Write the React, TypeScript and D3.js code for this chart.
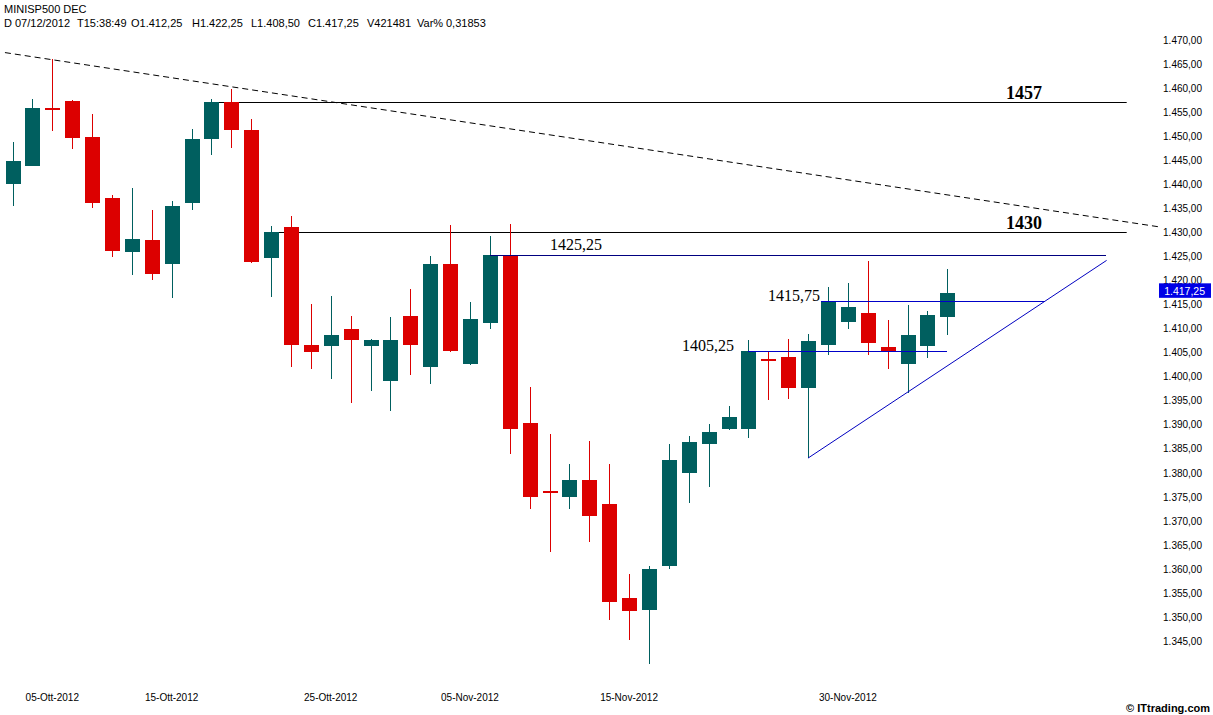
import React from "react";
import * as d3 from "d3";

// ---- DATA ----
const dates = [
  "2012-10-03","2012-10-04","2012-10-05","2012-10-08","2012-10-09","2012-10-10","2012-10-11","2012-10-12",
  "2012-10-15","2012-10-16","2012-10-17","2012-10-18","2012-10-19","2012-10-22","2012-10-23","2012-10-24",
  "2012-10-25","2012-10-26","2012-10-29","2012-10-30","2012-10-31","2012-11-01","2012-11-02","2012-11-05",
  "2012-11-06","2012-11-07","2012-11-08","2012-11-09","2012-11-12","2012-11-13","2012-11-14","2012-11-15",
  "2012-11-16","2012-11-19","2012-11-20","2012-11-21","2012-11-22","2012-11-23","2012-11-26","2012-11-27",
  "2012-11-28","2012-11-29","2012-11-30","2012-12-03","2012-12-04","2012-12-05","2012-12-06","2012-12-07",
];
const open = [
  1440, 1443.75, 1455.75, 1457.25, 1449.75, 1437, 1425.75, 1428.25,
  1423.25, 1436, 1449.25, 1457, 1451.25, 1424.5, 1431, 1406.5,
  1406.25, 1409.75, 1406.25, 1399, 1412.5, 1402, 1423.25, 1402.5,
  1411, 1425.25, 1390.25, 1376, 1375, 1378.5, 1373.5, 1354,
  1351.5, 1360.5, 1380, 1386, 1389, 1389, 1403.5, 1404,
  1397.5, 1406.5, 1411.25, 1413.25, 1406, 1402.5, 1406.25, 1412.25,
];
const high = [
  1448.75, 1457.75, 1466, 1457.5, 1454.5, 1437.75, 1439.25, 1434.5,
  1436.5, 1451.5, 1457.75, 1459.75, 1453.5, 1431.25, 1433.25, 1415,
  1416.75, 1412.5, 1407.75, 1412.25, 1418.25, 1425, 1431.5, 1415.5,
  1429.25, 1431.75, 1397.75, 1388, 1381.75, 1386.5, 1381.75, 1359,
  1360.5, 1386, 1387.5, 1390, 1393.75, 1407.5, 1405.25, 1407.75,
  1408.75, 1418.5, 1419.5, 1424, 1411.75, 1414.75, 1413.5, 1422.25,
];
const low = [
  1435.5, 1443.75, 1451, 1447.25, 1435, 1424.75, 1421, 1420,
  1416.25, 1434.5, 1446, 1447.5, 1423.5, 1416.5, 1402, 1401.5,
  1399.5, 1394.5, 1397, 1392.75, 1400.25, 1398.5, 1405, 1402.25,
  1409.75, 1383.75, 1372.5, 1363.5, 1372.5, 1365.5, 1349.25, 1345.25,
  1340.25, 1360, 1373.75, 1377, 1388.75, 1387.25, 1395, 1395.25,
  1383, 1404.5, 1409.75, 1404.5, 1401.5, 1396.5, 1403.75, 1408.5,
];
const close = [
  1444.75, 1455.75, 1455.5, 1449.5, 1436, 1426, 1428.5, 1421.25,
  1435.5, 1449.25, 1457, 1451.25, 1423.75, 1430, 1406.5, 1405,
  1408.5, 1407.5, 1407.5, 1407.5, 1406.5, 1423.25, 1405.25, 1412,
  1425.25, 1389, 1375, 1375.75, 1378.5, 1371, 1353, 1351.25,
  1360, 1382.5, 1386.25, 1388.5, 1391.5, 1405.25, 1403.25, 1397.5,
  1407.25, 1415.75, 1414.5, 1407, 1405.25, 1408.5, 1412.75, 1417.25,
];
const lastVolume = "421481";
const lastVar = "0,31853";
const lastTime = "15:38:49";

// axis ticks
const yTicks = d3.range(1345, 1470.001, 5);
const xTickDates = ["2012-10-05","2012-10-15","2012-10-25","2012-11-05","2012-11-15","2012-11-30"];
const xTickLabels = ["05-Ott-2012","15-Ott-2012","25-Ott-2012","05-Nov-2012","15-Nov-2012","30-Nov-2012"];

// horizontal levels: value, from index, to index
const boldLevels = [1457, 1430];
const boldLevelFrom = [10, 13];
const boldLevelTo = [56.02, 56.02];
const blueLevels = [1425.25, 1415.75, 1405.25];
const blueLevelFrom = [24, 40.65, 37];
const blueLevelTo = [55, 51.9, 47];
// trend lines [x index, value]
const dashedTrend = [[-0.38, 1467.3], [57.6, 1431.1]];
const risingTrend = [[40, 1383], [55.01, 1424.1]];

const TEAL = "#005f5f";
const RED = "#dc0000";

const locale = d3.formatLocale({ decimal: ",", thousands: ".", grouping: [3], currency: ["", ""] });
const fmtTick = locale.format(",.2f");
const fmtLevel = locale.format(".2f");

export default function App() {
  const W = 1213, H = 715;
  const x = d3.scaleLinear().domain([0, 47]).range([12.5, 947.3]);
  const y = d3.scaleLinear().domain([1345, 1470]).range([640.85, 39.6]);
  const n = dates.length;
  const last = n - 1;
  const sans = "'Liberation Sans', Arial, sans-serif";
  const serif = "'Liberation Serif', 'Times New Roman', serif";

  const line = d3.line<number[]>().x((d) => x(d[0])).y((d) => y(d[1]));

  const headerFields: [number, string][] = [
    [4, "D"],
    [15, "07/12/2012"],
    [77, "T" + lastTime],
    [131, "O" + fmtTick(open[last])],
    [192, "H" + fmtTick(high[last])],
    [251, "L" + fmtTick(low[last])],
    [308, "C" + fmtTick(close[last])],
    [367, "V" + lastVolume],
    [417, "Var%"],
    [446, lastVar],
  ];

  return (
    <svg width={W} height={H} style={{ position: "absolute", left: 0, top: 0, background: "#fff" }}>
      <rect x={0} y={0} width={W} height={H} fill="#fff" />
      {/* header */}
      <text x={4} y={13} fontFamily={sans} fontSize={11} fill="#000">MINISP500 DEC</text>
      {headerFields.map(([hx, t], i) => (
        <text key={i} x={hx} y={27} fontFamily={sans} fontSize={11} fill="#000">{t}</text>
      ))}

      {/* dashed trendline */}
      <path d={line(dashedTrend) || ""} stroke="#000" strokeWidth={1} strokeDasharray="6,4" fill="none" />

      {/* bold levels */}
      {boldLevels.map((v, i) => (
        <g key={"bl" + i}>
          <line x1={x(boldLevelFrom[i])} x2={x(boldLevelTo[i])} y1={Math.round(y(v)) + 0.5} y2={Math.round(y(v)) + 0.5} stroke="#000" strokeWidth={1} />
          <text x={1006} y={Math.round(y(v)) - 3} fontFamily={serif} fontWeight="bold" fontSize={18} fill="#000">{d3.format("d")(v)}</text>
        </g>
      ))}

      {/* candles */}
      {dates.map((d, i) => {
        const cx = Math.round(x(i));
        const up = close[i] >= open[i];
        const col = up ? TEAL : RED;
        const top = y(Math.max(open[i], close[i]));
        const bot = y(Math.min(open[i], close[i]));
        let h = bot - top;
        let ty = top;
        if (h < 2) { ty = (top + bot) / 2 - 1; h = 2; }
        return (
          <g key={d} shapeRendering="crispEdges">
            <line x1={cx + 0.5} x2={cx + 0.5} y1={y(high[i])} y2={y(low[i])} stroke={col} strokeWidth={1} />
            <rect x={cx - 7} y={ty} width={15} height={h} fill={col} />
          </g>
        );
      })}

      {/* blue levels */}
      {blueLevels.map((v, i) => (
        <line key={"bv" + i} x1={x(blueLevelFrom[i])} x2={x(blueLevelTo[i])} y1={Math.round(y(v)) + 0.5} y2={Math.round(y(v)) + 0.5}
          stroke={i === 0 ? "#000080" : "#0000c8"} strokeWidth={1} shapeRendering="crispEdges" />
      ))}
      <text x={550} y={y(blueLevels[0]) - 4.5} fontFamily={serif} fontSize={16} fill="#000">{fmtLevel(blueLevels[0])}</text>
      <text x={820} y={y(blueLevels[1])} textAnchor="end" fontFamily={serif} fontSize={16} fill="#000">{fmtLevel(blueLevels[1])}</text>
      <text x={734} y={y(blueLevels[2])} textAnchor="end" fontFamily={serif} fontSize={16} fill="#000">{fmtLevel(blueLevels[2])}</text>

      {/* rising trendline */}
      <path d={line(risingTrend) || ""} stroke="#0000c0" strokeWidth={1} fill="none" />

      {/* y axis labels */}
      {yTicks.map((v) => (
        <text key={v} x={1202} y={y(v) + 4} textAnchor="end" fontFamily={sans} fontSize={10} fill="#000">{fmtTick(v)}</text>
      ))}
      {/* last price tag */}
      <rect x={1159} y={y(close[last]) - 10} width={52} height={14.5} fill="#0000e6" />
      <text x={1205} y={y(close[last]) + 1.7} textAnchor="end" fontFamily={sans} fontSize={10.5} fill="#fff">{fmtTick(close[last])}</text>

      {/* x axis labels */}
      {xTickDates.map((dt, i) => (
        <text key={dt} x={x(dates.indexOf(dt))} y={701} textAnchor="middle" fontFamily={sans} fontSize={10} fill="#000">{xTickLabels[i]}</text>
      ))}
      <text x={1210} y={712} textAnchor="end" fontFamily={sans} fontWeight="bold" fontSize={11} fill="#000">© ITtrading.com</text>
    </svg>
  );
}
